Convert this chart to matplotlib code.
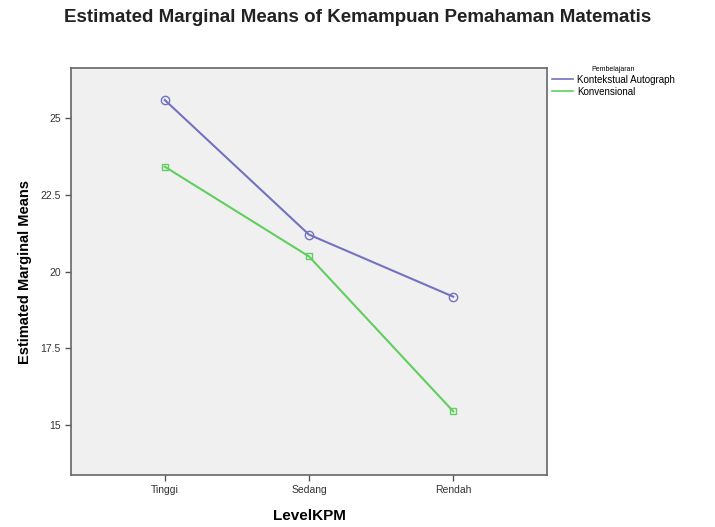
import matplotlib.pyplot as plt
from matplotlib.lines import Line2D

plt.rcParams['font.family'] = ['Liberation Sans', 'DejaVu Sans']

# Estimated marginal means per level
levels = ['Tinggi', 'Sedang', 'Rendah']
kontekstual = [25.58, 21.20, 19.18]
konvensional = [23.41, 20.49, 15.45]
yticks = [15, 17.5, 20, 22.5, 25]
blue = '#7272c0'
green = '#5fcf5f'

fig = plt.figure(figsize=(7.15, 5.27), dpi=100)
ax = fig.add_axes([71 / 715, 1 - 475 / 527, 476 / 715, 407 / 527])
ax.set_facecolor('#f0f0f0')

x = range(len(levels))
ax.plot(x, kontekstual, color=blue, lw=1.5, marker='o', ms=6,
        mfc='none', mec=blue)
ax.plot(x, konvensional, color=green, lw=1.5, marker='s', ms=5,
        mfc='none', mec=green)

ax.set_xlim(-0.65, 2.65)
ax.set_ylim(13.38, 26.62)
ax.set_xticks(list(x))
ax.set_xticklabels(levels, fontsize=7.5)
ax.set_yticks(yticks)
ax.set_yticklabels(['15', '17.5', '20', '22.5', '25'], fontsize=7.5)
ax.tick_params(length=4, width=1, colors='#555555', labelcolor='#333333')
for s in ax.spines.values():
    s.set_color('#666666')
    s.set_linewidth(1.2)

ax.set_xlabel('LevelKPM', fontsize=11, fontweight='bold', labelpad=10)
ax.set_ylabel('Estimated Marginal Means', fontsize=10.5, fontweight='bold', labelpad=6)

fig.text(358 / 715, 1 - 17 / 527, 'Estimated Marginal Means of Kemampuan Pemahaman Matematis',
         ha='center', va='center', fontsize=13.5, fontweight='bold', color='#222222')

handles = [Line2D([], [], color=blue, lw=1.2), Line2D([], [], color=green, lw=1.2)]
leg = fig.legend(handles, ['Kontekstual Autograph', 'Konvensional'],
                 loc='upper left', bbox_to_anchor=(548 / 715, 1 - 62 / 527),
                 frameon=False, fontsize=7, title='Pembelajaran',
                 title_fontsize=5, handlelength=2.2, handletextpad=0.4,
                 labelspacing=0.2, borderaxespad=0)

fig.savefig('out.png', dpi=100)
